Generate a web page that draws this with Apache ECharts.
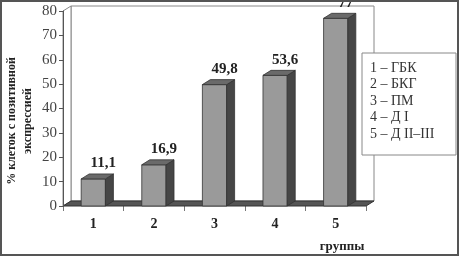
<!DOCTYPE html>
<html>
<head>
<meta charset="utf-8">
<script src="https://cdn.jsdelivr.net/npm/echarts@6/dist/echarts.min.js"></script>
<style>
  html, body { margin: 0; padding: 0; background: #fff; }
  #chart { width: 459px; height: 256px; }
</style>
</head>
<body>
<div id="chart"></div>
<script>
const groups = ['1', '2', '3', '4', '5'];
const values = [11.1, 16.9, 49.8, 53.6, 77];
const legendItems = ['1 – ГБК', '2 – БКГ', '3 – ПМ', '4 – Д I', '5 – Д II–III'];
const yName = '% клеток с позитивной\nэкспрессией';
const xName = 'группы';

const SERIF = '"Liberation Serif", "DejaVu Serif", serif';
const DX = 8, DY = -5; // depth of the 3d look

const chart = echarts.init(document.getElementById('chart'));

function fmt(v) {
  return String(v).replace('.', ',');
}

// back wall, left wall and floor
function renderWalls(params, api) {
  const c = params.coordSys;
  const x = c.x, y = c.y, w = c.width, h = c.height;
  const wall = { fill: '#fff', stroke: '#888', lineWidth: 1 };
  return {
    type: 'group',
    children: [
      { type: 'rect', shape: { x: x + DX, y: y + DY, width: w, height: h }, style: wall },
      { type: 'polygon', shape: { points: [[x, y], [x + DX, y + DY], [x + DX, y + h + DY], [x, y + h]] }, style: wall },
      { type: 'polygon', shape: { points: [[x, y + h], [x + DX, y + h + DY], [x + w + DX, y + h + DY], [x + w, y + h]] },
        style: { fill: '#555', stroke: '#333', lineWidth: 1 } }
    ]
  };
}

function renderBar(params, api) {
  const idx = api.value(0);
  const v = api.value(1);
  const top = api.coord([idx, v]);
  const base = api.coord([idx, 0]);
  const bw = api.size([1, 0])[0] * 0.4;
  const l = top[0] - bw / 2, r = top[0] + bw / 2;
  const t = top[1], b = base[1];
  return {
    type: 'group',
    children: [
      { type: 'rect', shape: { x: l, y: t, width: bw, height: b - t },
        style: { fill: '#9a9a9a', stroke: '#333', lineWidth: 0.8 } },
      { type: 'polygon', shape: { points: [[r, t], [r + DX, t + DY], [r + DX, b + DY], [r, b]] },
        style: { fill: '#464646', stroke: '#333', lineWidth: 0.8 } },
      { type: 'polygon', shape: { points: [[l, t], [l + DX, t + DY], [r + DX, t + DY], [r, t]] },
        style: { fill: '#6a6a6a', stroke: '#333', lineWidth: 0.8 } },
      { type: 'text', style: { text: fmt(v), x: top[0] + 10, y: t - 8, align: 'center', verticalAlign: 'bottom',
        font: 'bold 15px ' + SERIF, fill: '#222' } }
    ]
  };
}

const option = {
  animation: false,
  backgroundColor: '#fff',
  grid: { left: 63, right: 93, top: 11, bottom: 50 },
  xAxis: {
    type: 'category',
    data: groups,
    axisLine: { show: false },
    axisTick: { show: true, length: 5, lineStyle: { color: '#777' } },
    axisLabel: { margin: 11, fontSize: 14, fontWeight: 'bold', fontFamily: SERIF, color: '#222' }
  },
  yAxis: {
    type: 'value',
    min: 0,
    max: 80,
    interval: 10,
    z: 3,
    splitLine: { show: false },
    axisLine: { show: true, lineStyle: { color: '#555' } },
    axisTick: { show: true, length: 4, lineStyle: { color: '#555' } },
    axisLabel: { margin: 6, fontSize: 15, fontFamily: SERIF, color: '#444' }
  },
  series: [
    { type: 'custom', z: 1, renderItem: renderWalls, data: [[0, 0]], silent: true },
    { type: 'custom', z: 2, renderItem: renderBar, data: values.map((v, i) => [i, v]) }
  ],
  graphic: [
    { type: 'text', x: 20, y: 121, rotation: Math.PI / 2,
      style: { text: yName, align: 'center', verticalAlign: 'middle', lineHeight: 16,
        font: 'bold 12px ' + SERIF, fill: '#222' } },
    { type: 'text', x: 342, y: 247,
      style: { text: xName, align: 'center', verticalAlign: 'middle', font: 'bold 13px ' + SERIF, fill: '#222' } },
    { type: 'rect', shape: { x: 362, y: 53, width: 94, height: 102 },
      style: { fill: '#fff', stroke: '#888', lineWidth: 1 }, z: 10 },
    { type: 'text', x: 370, y: 60, z: 11,
      style: { text: legendItems.join('\n'), lineHeight: 16.5, font: '14px ' + SERIF, fill: '#333' } },
    { type: 'rect', shape: { x: 1, y: 1, width: 457, height: 254 },
      style: { fill: 'none', stroke: '#555', lineWidth: 2 }, z: 20 }
  ]
};

chart.setOption(option);
</script>
</body>
</html>
